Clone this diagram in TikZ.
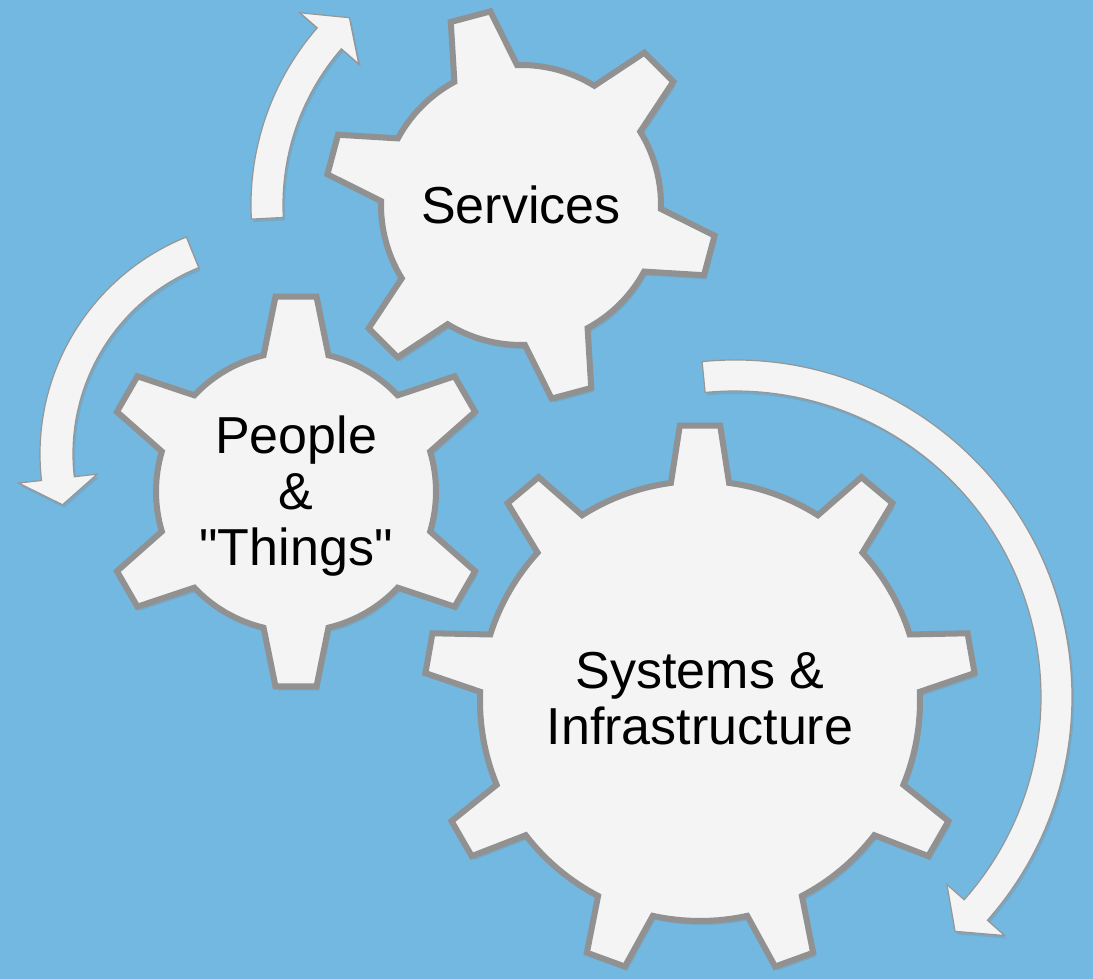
\documentclass[tikz,border=0pt]{standalone}
\usepackage{fontspec}
\setmainfont{Liberation Sans}
\usetikzlibrary{shadows}

\definecolor{backblue}{RGB}{114,184,224}
\definecolor{cogfill}{RGB}{244,244,244}
\definecolor{cogline}{RGB}{145,145,145}
\definecolor{turnline}{RGB}{150,150,150}

\tikzset{
  cog/.style={fill=cogfill, draw=cogline, line width=3pt, line join=miter,
    drop shadow={shadow xshift=1.2pt, shadow yshift=-2pt, opacity=.25}},
  turn/.style={fill=cogfill, draw=turnline, line width=.6pt,
    drop shadow={shadow xshift=1pt, shadow yshift=-1.5pt, opacity=.25}},
  cogtext/.style={font=\fontsize{26}{28}\selectfont, align=center, inner sep=0pt}
}

% centre, teeth, root radius, tip radius, half angle at root, half angle at tip, first tooth
\newcommand{\cog}[7]{%
  \begin{scope}[shift={(#1)}]
    \draw[cog] (#7-#5:#3)
      \foreach \k [evaluate=\k as \a using #7+(\k-1)*360/#2] in {1,...,#2}{
        -- (\a-#5:#3) -- (\a-#6:#4) -- (\a+#6:#4) -- (\a+#5:#3)
        arc[start angle=\a+#5, end angle=\a+360/#2-#5, radius=#3]
      } -- cycle;
  \end{scope}}

% centre, inner radius, outer radius, tail angle, neck angle, tip angle
\newcommand{\turnarrow}[6]{%
  \begin{scope}[shift={(#1)}]
    \draw[turn] (#4:#3) arc[start angle=#4, end angle=#5, radius=#3]
      -- (#5:{#3+23}) -- (#6:{(#2+#3)/2}) -- (#5:{#2-23}) -- (#5:#2)
      arc[start angle=#5, end angle=#4, radius=#2] -- cycle;
  \end{scope}}

\begin{document}
\begin{tikzpicture}[x=0.5pt, y=0.5pt]
  \fill[backblue] (0,0) rectangle (1093,979);

  \coordinate (srv) at (521,774);
  \coordinate (ppl) at (296,487.5);
  \coordinate (sys) at (700,278);
  \coordinate (pplturn) at (274,525);
  \coordinate (systurn) at (735,282);

  % gears
  \cog{srv}{6}{140}{196}{13.4}{6}{45}
  \cog{ppl}{6}{140}{196}{13.4}{6}{30}
  \cog{sys}{9}{220}{276}{7.6}{4.2}{10}

  % arrows round the gears
  \turnarrow{srv}{238}{270}{183}{139}{132.5}
  \turnarrow{pplturn}{201}{234}{112}{186.5}{193.5}
  \turnarrow{systurn}{306}{337}{95.6}{-41.5}{-46.8}

  \node[cogtext] (services) at (srv) {Services};
  \node[cogtext, yshift=-2.5pt] (people) at (ppl)
    {People\\\&\\\textquotedbl Things\textquotedbl};
  \node[cogtext, yshift=1pt] (systems) at (sys) {Systems \&\\Infrastructure};
\end{tikzpicture}
\end{document}
